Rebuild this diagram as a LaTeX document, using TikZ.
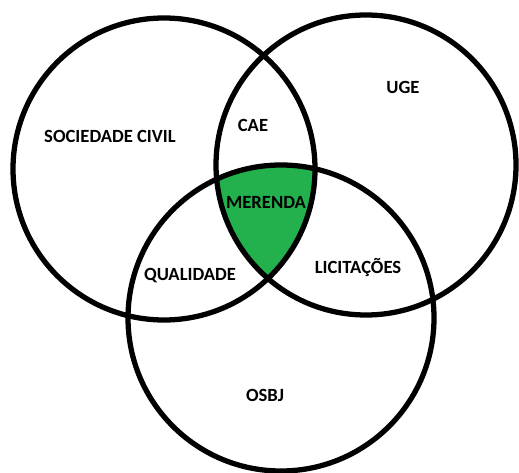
\documentclass[tikz,border=0pt]{standalone}
\usepackage{fontspec}
\setsansfont{Carlito}
\usepackage{xcolor}
\definecolor{paintgreen}{RGB}{34,177,76}

\begin{document}
\begin{tikzpicture}[
  x=0.02cm, y=-0.02cm,
  ring/.style={draw=black, line width=3pt},
  lbl/.style={font=\sffamily\bfseries\fontsize{10.6}{12}\selectfont, text=black, inner sep=0pt}
]
  \useasboundingbox (0,0) rectangle (519,472);
  \coordinate (civil) at (164,169);
  \coordinate (uge) at (366,165);
  \coordinate (osbj) at (281,318);

  % common area of the three rings
  \begin{scope}
    \clip (civil) circle[radius=151];
    \clip (uge) circle[radius=150];
    \fill[paintgreen] (osbj) circle[radius=153];
  \end{scope}

  \draw[ring] (civil) circle[radius=151];
  \draw[ring] (uge) circle[radius=150];
  \draw[ring] (osbj) circle[radius=153];

  \node[lbl] (sociedade) at (110,136) {SOCIEDADE CIVIL};
  \node[lbl] (cae) at (253,125) {CAE};
  \node[lbl] (ugelbl) at (403,87) {UGE};
  \node[lbl] (merenda) at (266,202) {MERENDA};
  \node[lbl] (qualidade) at (190,276) {QUALIDADE};
  \node[lbl] (licitacoes) at (358,267) {LICITAÇÕES};
  \node[lbl] (osbjlbl) at (265,395) {OSBJ};
\end{tikzpicture}
\end{document}
